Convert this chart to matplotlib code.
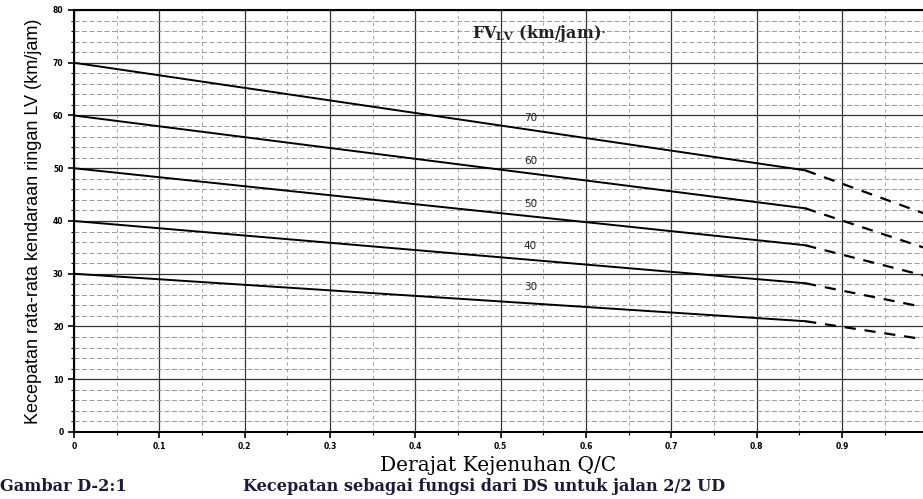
import matplotlib
matplotlib.use("Agg")
import matplotlib.pyplot as plt
import numpy as np

# Data
fv_labels = ["70", "60", "50", "40", "30"]
qc_solid = [0.0, 0.857]
qc_dash = [0.857, 0.995]
speed_start = [70, 60, 50, 40, 30]
speed_knee = [49.6, 42.4, 35.4, 28.2, 21.0]
speed_end = [41.5, 35.0, 29.7, 23.7, 17.6]
label_x = 0.535
label_y = [59.5, 51.3, 43.2, 35.2, 27.5]
x_ticks = [0, 0.1, 0.2, 0.3, 0.4, 0.5, 0.6, 0.7, 0.8, 0.9]
x_ticklabels = ["0", "0.1", "0.2", "0.3", "0.4", "0.5", "0.6", "0.7", "0.8", "0.9"]
y_ticks = [0, 10, 20, 30, 40, 50, 60, 70, 80]

fig = plt.figure(figsize=(9.23, 4.99), dpi=100)
ax = fig.add_axes([0.080, 0.1343, 0.920, 0.8457])
ax.set_xlim(0, 0.995)
ax.set_ylim(0, 80)

ax.set_xticks(x_ticks)
ax.set_xticklabels(x_ticklabels)
ax.set_xticks(np.arange(0.05, 1.0, 0.1), minor=True)
ax.set_yticks(y_ticks)
ax.set_yticks(np.arange(0, 81, 2), minor=True)

ax.grid(which="major", color="#333333", linewidth=0.9, linestyle="-")
ax.grid(which="minor", axis="y", color="#8a8a8a", linewidth=0.6, linestyle=(0, (6, 3)))
ax.grid(which="minor", axis="x", color="#999999", linewidth=0.6, linestyle=(0, (4, 4)))

for s0, sk, se in zip(speed_start, speed_knee, speed_end):
    ax.plot(qc_solid, [s0, sk], color="black", linewidth=1.4, zorder=3)
    ax.plot(qc_dash, [sk, se], color="black", linewidth=1.6, linestyle=(0, (5, 4)), zorder=3)

for lab, ly in zip(fv_labels, label_y):
    ax.text(label_x, ly, lab, fontsize=7.5, ha="center", va="center", color="#222222",
            family="DejaVu Sans", zorder=4)

ax.text(0.467, 75.6, r"FV$_{\mathregular{LV}}$ (km/jam)$\cdot$", fontsize=11.5, fontweight="bold",
        family="DejaVu Serif", ha="left", va="center", color="#222222", zorder=4)

for side in ["left", "top", "bottom"]:
    ax.spines[side].set_linewidth(1.5)
    ax.spines[side].set_color("black")
ax.spines["right"].set_visible(False)

ax.tick_params(axis="both", which="major", labelsize=5.5, length=4, width=1.2, colors="black")
ax.tick_params(axis="both", which="minor", length=2.5, width=0.8)
for t in ax.get_xticklabels() + ax.get_yticklabels():
    t.set_fontweight("bold")

ax.set_xlabel("Derajat Kejenuhan Q/C", fontsize=14.5, family="DejaVu Serif", labelpad=3)
ax.set_ylabel("Kecepatan rata-rata kendaraan ringan LV (km/jam)", fontsize=13,
              family="Liberation Sans", labelpad=8)

fig.text(0.0, 0.008, "Gambar D-2:1", fontsize=11.6, fontweight="bold",
         family="DejaVu Serif", color="#1a1a3a", ha="left", va="bottom")
fig.text(0.263, 0.008, "Kecepatan sebagai fungsi dari DS untuk jalan 2/2 UD", fontsize=11.6,
         fontweight="bold", family="DejaVu Serif", color="#1a1a3a", ha="left", va="bottom")

fig.savefig("out.png", dpi=100)
